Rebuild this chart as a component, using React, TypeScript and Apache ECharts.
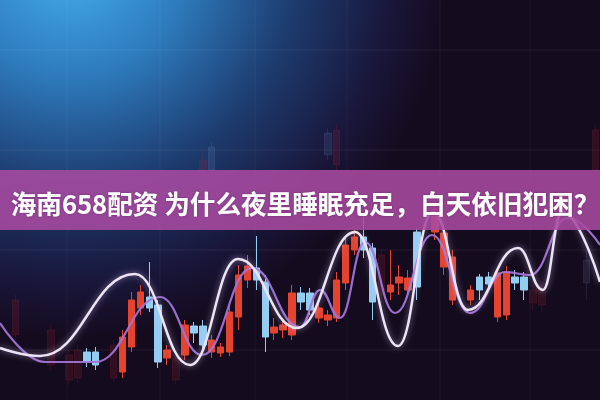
import React, { useEffect, useRef } from "react";
import * as echarts from "echarts";

// Title shown on the banner
const titleText = "海南658配资 为什么夜里睡眠充足，白天依旧犯困？";

// Candle slots on the category axis
const slotCount = 67;

// Main candles: [slot, open, close, low, high]
const mainCandles: number[][] = [
  [9, 48, 38, 33, 52],
  [10, 48, 35, 30, 53],
  [13, 28, 63, 22, 70],
  [14, 53, 100, 48, 108],
  [15, 92, 108, 85, 115],
  [16, 103, 92, 88, 138],
  [17, 95, 38, 32, 100],
  [18, 42, 50, 35, 55],
  [20, 45, 75, 40, 80],
  [21, 74, 67, 57, 78],
  [22, 74, 55, 48, 80],
  [23, 48, 60, 42, 65],
  [24, 47, 53, 43, 57],
  [25, 48, 88, 44, 95],
  [26, 83, 125, 70, 135],
  [27, 120, 134, 112, 145],
  [28, 132, 120, 110, 164],
  [29, 118, 63, 48, 125],
  [30, 67, 73, 60, 82],
  [31, 70, 75, 62, 82],
  [32, 65, 107, 60, 115],
  [33, 107, 98, 90, 113],
  [34, 107, 90, 85, 112],
  [35, 82, 92, 77, 97],
  [36, 80, 85, 74, 90],
  [37, 82, 120, 78, 128],
  [38, 117, 155, 110, 162],
  [39, 150, 163, 145, 170],
  [40, 163, 150, 142, 185],
  [41, 152, 98, 80, 157],
  [43, 108, 115, 100, 150],
  [44, 117, 123, 105, 135],
  [45, 110, 122, 105, 130],
  [46, 168, 113, 100, 172],
  [48, 168, 185, 160, 195],
  [49, 133, 167, 125, 175],
  [50, 100, 143, 95, 150],
  [52, 100, 110, 95, 115],
  [53, 123, 110, 100, 126],
  [54, 123, 116, 110, 128],
  [55, 83, 127, 78, 132],
  [56, 85, 128, 80, 134],
  [57, 123, 117, 110, 130],
  [58, 123, 110, 100, 128],
];

// Dim background candles: [slot, open, close, low, high]
const dimCandles: number[][] = [
  [1, 65, 100, 60, 105],
  [5, 35, 70, 30, 75],
  [7, 20, 45, 15, 50],
  [8, 22, 50, 18, 55],
  [12, 22, 55, 18, 60],
  [19, 20, 42, 16, 46],
  [42, 105, 145, 70, 150],
  [59, 97, 110, 90, 115],
  [60, 95, 110, 88, 116],
  [65, 140, 117, 100, 150],
  [22, 230, 240, 225, 250],
  [23, 253, 230, 225, 258],
  [36, 267, 245, 240, 272],
  [37, 235, 270, 230, 275],
  [66, 230, 270, 225, 275],
];

// Smooth moving-average style lines: [x, value]
const whiteLine: number[][] = [
  [0, 52], [40, 44], [135, 126], [190, 35], [238, 141], [297, 72],
  [355, 168], [398, 54], [433, 188], [468, 90], [518, 152], [543, 110],
  [562, 188], [600, 118],
];
const purpleLine: number[][] = [
  [0, 77], [45, 38], [95, 38], [160, 103], [202, 45], [252, 132],
  [300, 73], [320, 110], [340, 82], [365, 158], [395, 87], [432, 165],
  [470, 87], [505, 128], [530, 125], [568, 182], [600, 155],
];

function buildSlots(rows: number[][]) {
  const arr: any[] = [];
  for (let i = 0; i < slotCount; i++) arr.push("-");
  rows.forEach((r) => {
    arr[r[0]] = [r[1], r[2], r[3], r[4]];
  });
  return arr;
}

export default function App() {
  const ref = useRef<HTMLDivElement>(null);
  useEffect(() => {
    if (!ref.current) return;
    const chart = echarts.init(ref.current, null, { renderer: "svg" });
    const cats = Array.from({ length: slotCount }, (_, i) => String(i));
    const hLines = [50, 150, 250, 350].map((y) => ({
      type: "line",
      z: -5,
      silent: true,
      shape: { x1: 0, y1: y, x2: 600, y2: y },
      style: { stroke: "rgba(255,255,255,0.07)", lineWidth: 1 },
    }));
    const vLines = [67, 160, 255, 347, 440, 530].map((x) => ({
      type: "line",
      z: -5,
      silent: true,
      shape: { x1: x, y1: 0, x2: x, y2: 400 },
      style: { stroke: "rgba(255,255,255,0.05)", lineWidth: 1 },
    }));
    chart.setOption({
      animation: false,
      backgroundColor: "#140b1e",
      grid: [
        { left: 2, right: -2, top: 0, bottom: 0 },
        { left: 0, right: 0, top: 0, bottom: 0 },
      ],
      xAxis: [
        { type: "category", data: cats, gridIndex: 0, show: false, boundaryGap: true },
        { type: "value", min: 0, max: 600, gridIndex: 1, show: false },
      ],
      yAxis: [
        { type: "value", min: 0, max: 400, gridIndex: 0, show: false },
        { type: "value", min: 0, max: 400, gridIndex: 1, show: false },
      ],
      graphic: [
        {
          type: "rect",
          z: -10,
          silent: true,
          shape: { x: 0, y: 0, width: 600, height: 400 },
          style: {
            fill: {
              type: "radial",
              x: 70,
              y: -40,
              r: 380,
              global: true,
              colorStops: [
                { offset: 0, color: "#46b0ea" },
                { offset: 0.3, color: "#2e7cbe" },
                { offset: 0.6, color: "#1d3b6e" },
                { offset: 0.85, color: "#19163a" },
                { offset: 1, color: "#140b1e" },
              ],
            },
          },
        },
        ...hLines,
        ...vLines,
        {
          type: "rect",
          z: 100,
          silent: true,
          shape: { x: 0, y: 170, width: 600, height: 60 },
          style: { fill: "rgba(168,74,160,0.88)" },
        },
        {
          type: "text",
          z: 101,
          silent: true,
          x: 305,
          y: 202,
          style: {
            text: titleText,
            fill: "#ffffff",
            font: 'bold 25.6px "Noto Sans CJK SC", sans-serif',
            align: "center",
            verticalAlign: "middle",
            textShadowColor: "rgba(60,0,60,0.35)",
            textShadowBlur: 2,
          },
        },
      ],
      series: [
        {
          type: "candlestick",
          xAxisIndex: 0,
          yAxisIndex: 0,
          barWidth: 7,
          data: buildSlots(dimCandles),
          itemStyle: {
            color: "rgba(190,45,55,0.16)",
            color0: "rgba(140,170,230,0.12)",
            borderColor: "rgba(190,45,55,0.16)",
            borderColor0: "rgba(140,170,230,0.12)",
            borderWidth: 1,
          },
          z: 1,
        },
        {
          type: "candlestick",
          xAxisIndex: 0,
          yAxisIndex: 0,
          barWidth: 7,
          data: buildSlots(mainCandles),
          itemStyle: {
            color: "#e5432f",
            color0: "#94cdf2",
            borderColor: "#e5432f",
            borderColor0: "#94cdf2",
            borderWidth: 1,
          },
          z: 2,
        },
        {
          type: "line",
          xAxisIndex: 1,
          yAxisIndex: 1,
          data: purpleLine,
          smooth: 0.45,
          smoothMonotone: "x",
          showSymbol: false,
          lineStyle: { color: "#a173d6", width: 2.2, opacity: 0.95 },
          z: 3,
        },
        {
          type: "line",
          xAxisIndex: 1,
          yAxisIndex: 1,
          data: whiteLine,
          smooth: 0.45,
          smoothMonotone: "x",
          showSymbol: false,
          lineStyle: {
            color: "#ece4f4",
            width: 2.5,
            shadowBlur: 6,
            shadowColor: "rgba(220,200,255,0.6)",
          },
          z: 4,
        },
      ],
    });
    return () => chart.dispose();
  }, []);
  return (
    <div
      ref={ref}
      style={{ position: "fixed", left: 0, top: 0, width: 600, height: 400 }}
    />
  );
}
